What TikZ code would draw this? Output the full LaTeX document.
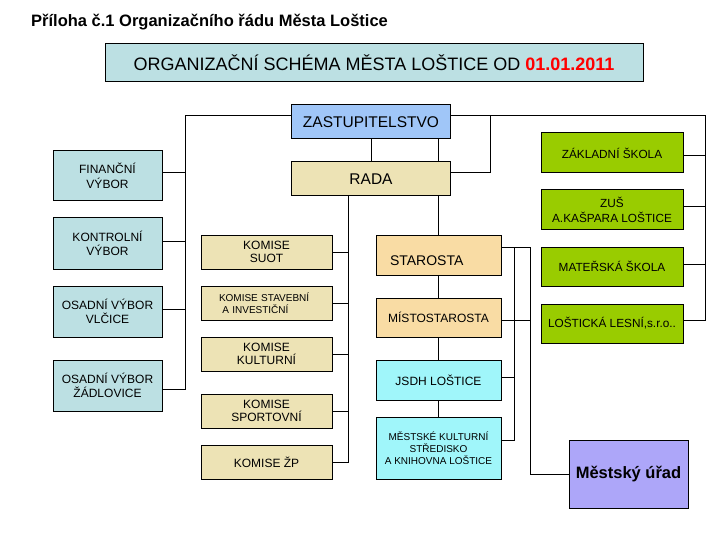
\documentclass[tikz,border=0pt]{standalone}
\usepackage{fontspec}
\setmainfont{Liberation Sans}
\definecolor{hdr}{HTML}{BCE0E3}
\definecolor{zastc}{HTML}{A0C6F8}
\definecolor{radac}{HTML}{EDE3B5}
\definecolor{staroc}{HTML}{F9DCA4}
\definecolor{cyanc}{HTML}{A0F6FA}
\definecolor{greenc}{HTML}{99CC00}
\definecolor{purc}{HTML}{ADA6F9}
\begin{document}
\begin{tikzpicture}[x=1pt,y=-1pt,
  box/.style={draw=black, line width=1pt, inner sep=0pt, align=center},
  conn/.style={draw=black, line width=1pt},
  ftwelve/.style={font=\fontsize{12}{14.5}\selectfont},
  ften/.style={font=\fontsize{10}{12}\selectfont},
  vybor/.style={box, fill=hdr, minimum width=109pt, minimum height=50pt, ftwelve},
  komise/.style={box, fill=radac, minimum width=131pt, minimum height=34pt, font=\fontsize{12}{13.7}\selectfont},
  skola/.style={box, fill=greenc, minimum width=142pt, minimum height=40pt, font=\fontsize{11.8}{15}\selectfont},
  starbox/.style={box, fill=staroc, minimum width=125pt, minimum height=40pt},
  cyanbox/.style={box, fill=cyanc, minimum width=125pt, minimum height=40pt}]
\fill[white] (0,0) rectangle (720,540);
\useasboundingbox (0,0) rectangle (720,540);

% title
\node[anchor=base west, inner sep=0pt, font=\fontsize{16.5}{19}\selectfont\bfseries] (title) at (31,27) {Příloha č.1 Organizačního řádu Města Loštice};

% header
\node[box, fill=hdr, minimum width=538pt, minimum height=38.5pt, font=\fontsize{18}{20}\selectfont] (hdr) at (374,62.75)
  {ORGANIZAČNÍ SCHÉMA MĚSTA LOŠTICE OD \textcolor{red}{\bfseries 01.01.2011}};

% top
\node[box, fill=zastc, minimum width=159pt, minimum height=34pt, font=\fontsize{15.5}{17}\selectfont] (zast) at (371,122) {ZASTUPITELSTVO};
\node[box, fill=radac, minimum width=159pt, minimum height=34pt, font=\fontsize{15.5}{17}\selectfont] (rada) at (371,179) {RADA};

% left column
\node[vybor] (fin) at (107.5,176) {FINANČNÍ\\VÝBOR};
\node[vybor, minimum height=51pt] (kon) at (107.5,243.5) {KONTROLNÍ\\VÝBOR};
\node[vybor, minimum height=51pt, font=\fontsize{12}{13.5}\selectfont] (vlc) at (107.5,311.5) {OSADNÍ VÝBOR\\VLČICE};
\node[vybor, minimum height=51pt] (zad) at (107.5,385.5) {OSADNÍ VÝBOR\\ŽÁDLOVICE};

% komise
\node[komise] (suot) at (266.5,252) {KOMISE\\SUOT};
\node[komise, ften, align=left, text width=95pt, inner xsep=18pt] (stav) at (266.5,303) {KOMISE STAVEBNÍ\\\ A INVESTIČNÍ};
\node[komise] (kult) at (266.5,354) {KOMISE\\KULTURNÍ};
\node[komise] (sport) at (266.5,411) {KOMISE\\SPORTOVNÍ};
\node[komise] (zp) at (266.5,462) {KOMISE ŽP};

% starosta column
\node[starbox, font=\fontsize{14}{16}\selectfont, align=left, text width=97pt, inner xsep=14pt, text height=20pt, text depth=0pt] (staro) at (438.5,255) {STAROSTA};
\node[starbox, minimum height=39pt, ftwelve] (misto) at (438.5,317.5) {MÍSTOSTAROSTA};
\node[cyanbox, ftwelve] (jsdh) at (438.5,380) {JSDH LOŠTICE};
\node[cyanbox, minimum height=62pt, ften] (mkc) at (438.5,448) {MĚSTSKÉ KULTURNÍ\\STŘEDISKO\\A KNIHOVNA LOŠTICE};

% schools
\node[skola] (zs) at (612,153) {ZÁKLADNÍ ŠKOLA};
\node[skola] (zus) at (612,210) {ZUŠ\\A.KAŠPARA LOŠTICE};
\node[skola, minimum height=39pt] (ms) at (612,266.5) {MATEŘSKÁ ŠKOLA};
\node[skola, minimum height=39pt] (les) at (612,323.5) {LOŠTICKÁ LESNÍ,s.r.o..};

% mestsky urad
\node[box, fill=purc, minimum width=119pt, minimum height=68pt, font=\fontsize{16.5}{19}\selectfont\bfseries] (mu) at (628.5,474) {Městský úřad};

% junction coordinates
\coordinate (l0) at (185,116);
\coordinate (l1) at (185,173);
\coordinate (l2) at (185,241);
\coordinate (l3) at (185,309);
\coordinate (l4) at (185,389);
\coordinate (r1) at (348,252);
\coordinate (r2) at (348,303);
\coordinate (r3) at (348,354);
\coordinate (r4) at (348,411);
\coordinate (r5) at (348,462);
\coordinate (t0) at (705,116);
\coordinate (t1) at (705,156);
\coordinate (t2) at (705,207);
\coordinate (t3) at (705,264);
\coordinate (t4) at (705,320);
\coordinate (q0) at (490,116);
\coordinate (q1) at (490,173);
\coordinate (s0) at (514,247);
\coordinate (s1) at (530,247);
\coordinate (j1) at (514,377);
\coordinate (j2) at (514,440);
\coordinate (m1) at (530,320);
\coordinate (m0) at (530,474);

% connectors
\draw[conn] (zast.west |- l0) -- (l0) -- (l4) -- (zad.east |- l4);
\draw[conn] (fin.east |- l1) -- (l1);
\draw[conn] (kon.east |- l2) -- (l2);
\draw[conn] (vlc.east |- l3) -- (l3);

\draw[conn] (zast.south) -- (rada.north);
\draw[conn] (zast.south -| staro.north) -- (rada.north -| staro.north);
\draw[conn] (rada.south -| staro.north) -- (staro.north);
\draw[conn] (staro.south) -- (misto.north);
\draw[conn] (misto.south) -- (jsdh.north);
\draw[conn] (jsdh.south) -- (mkc.north);

\draw[conn] (rada.south -| r1) -- (r5) -- (zp.east |- r5);
\draw[conn] (suot.east |- r1) -- (r1);
\draw[conn] (stav.east |- r2) -- (r2);
\draw[conn] (kult.east |- r3) -- (r3);
\draw[conn] (sport.east |- r4) -- (r4);

\draw[conn] (zast.east |- t0) -- (t0) -- (t4) -- (les.east |- t4);
\draw[conn] (zs.east |- t1) -- (t1);
\draw[conn] (zus.east |- t2) -- (t2);
\draw[conn] (ms.east |- t3) -- (t3);
\draw[conn] (rada.east |- q1) -- (q1) -- (q0);

\draw[conn] (staro.east |- s0) -- (s1) -- (m0) -- (mu.west |- m0);
\draw[conn] (s0) -- (j2) -- (mkc.east |- j2);
\draw[conn] (misto.east |- m1) -- (m1);
\draw[conn] (jsdh.east |- j1) -- (j1);
\end{tikzpicture}
\end{document}
